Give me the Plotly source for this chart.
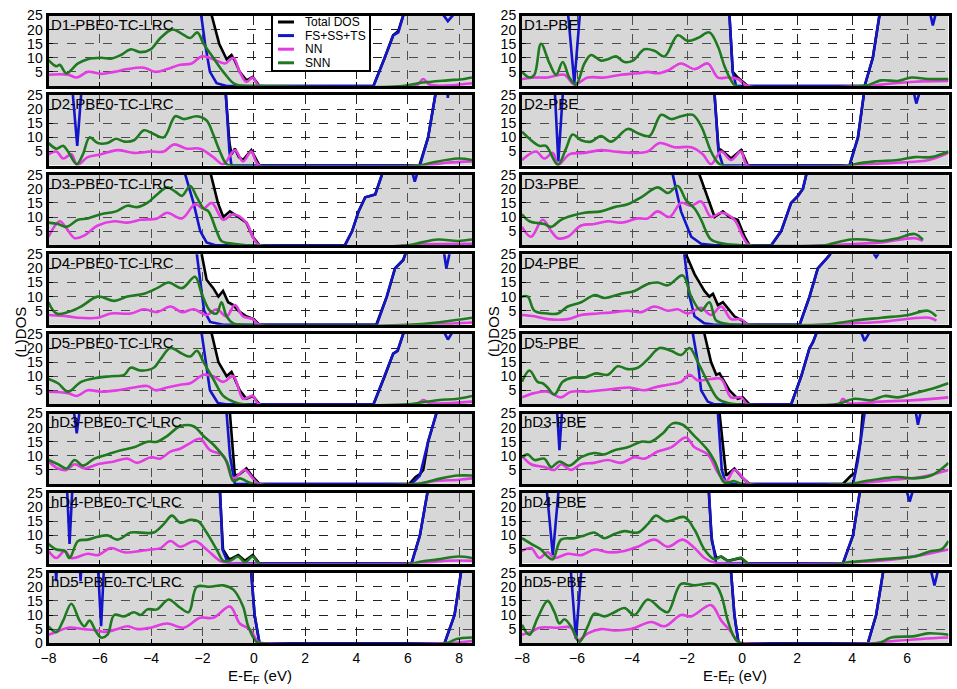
import plotly.graph_objects as go

# panel labels
labels_left = ["D1-PBE0-TC-LRC", "D2-PBE0-TC-LRC", "D3-PBE0-TC-LRC", "D4-PBE0-TC-LRC",
               "D5-PBE0-TC-LRC", "hD3-PBE0-TC-LRC", "hD4-PBE0-TC-LRC", "hD5-PBE0-TC-LRC"]
labels_right = ["D1-PBE", "D2-PBE", "D3-PBE", "D4-PBE", "D5-PBE", "hD3-PBE", "hD4-PBE", "hD5-PBE"]

# (E-EF, DOS) points, 40 = off scale (above 25)
# ---- PBE0-TC-LRC column ----
d1_lrc_tot = [(-8,40),(-1.75,40),(-1.64,25),(-1.35,15),(-1.06,9.5),(-0.87,11),(-0.74,9),(-0.55,5),(-0.29,2),(-0.04,3.2),(0.22,0),(4.66,0),(5.1,10),(5.43,18),(5.63,19.5),(5.82,25),(5.9,40),(8.5,40)]
d1_lrc_fs = [(-8,40),(-2.15,40),(-2.05,25),(-1.9,15),(-1.71,5),(-1.45,1),(-1.06,0),(4.66,0),(5.1,10),(5.43,18),(5.63,19),(5.82,25),(5.9,40),(7.3,40),(7.4,25),(7.56,23),(7.75,25),(7.85,40),(8.5,40)]
d1_lrc_nn = [(-8,4),(-7.24,4),(-6.9,3),(-6.47,5),(-5.95,4.3),(-5.44,5),(-4.93,6),(-4.28,6.5),(-3.83,5),(-3.38,6),(-2.87,7.5),(-2.42,8),(-2.03,10.5),(-1.58,9.5),(-1.13,8),(-0.8,10),(-0.55,5),(-0.29,1.5),(-0.04,3),(0.22,0),(6.3,0),(6.6,2.5),(6.85,0.5),(8.5,1)]
d1_lrc_snn = [(-8,9.2),(-7.69,7),(-7.56,7.5),(-7.3,4.5),(-6.85,8),(-6.47,9.5),(-5.95,10),(-5.57,9.7),(-5.18,11),(-4.8,13),(-4.41,12),(-4.02,13),(-3.64,17),(-3.19,20),(-2.8,18.5),(-2.48,17),(-2.2,19),(-1.96,15),(-1.58,10),(-1.19,5),(-0.8,1),(-0.55,0.2),(0,0),(5.8,0),(6.4,1),(6.92,1.5),(7.56,2),(8.2,2.5),(8.5,3)]

d2_lrc_tot = [(-8,40),(-1.15,40),(-1.09,25),(-0.95,8),(-0.87,4),(-0.74,6),(-0.58,3),(-0.42,2),(-0.1,5.5),(0.22,0),(6.45,0),(6.79,10),(7.07,25),(7.15,40),(8.5,40)]
d2_lrc_fs = [(-8,40),(-7.15,40),(-7.05,25),(-6.88,7),(-6.73,25),(-6.65,40),(-1.15,40),(-1.09,25),(-0.95,5),(-0.87,0),(6.47,0),(6.79,10),(7.07,25),(7.15,40),(7.45,40),(7.56,24),(7.67,40),(8.5,40)]
d2_lrc_nn = [(-8,4),(-7.69,5),(-7.43,2.5),(-7.11,4),(-6.88,0.3),(-6.47,3),(-5.95,4),(-5.31,5.5),(-4.67,4.5),(-4.02,5),(-3.51,5),(-3.12,7.5),(-2.61,6),(-2.09,6),(-1.58,3),(-1.19,0.5),(-0.74,5.5),(-0.42,1.5),(-0.1,5),(0.22,0),(6.5,0),(7.5,1),(8.5,1.5)]
d2_lrc_snn = [(-8,8),(-7.69,6),(-7.43,7),(-7.24,5),(-6.9,0.5),(-6.66,4),(-6.4,10),(-6.08,8),(-5.7,8),(-5.37,9.5),(-5.05,8.5),(-4.67,9),(-4.28,12.5),(-3.96,11.5),(-3.51,10),(-3.06,17.5),(-2.74,16.5),(-2.22,17.5),(-1.84,16),(-1.58,11),(-1.32,5),(-1.06,0.5),(-0.8,0),(6.4,0),(6.92,1),(7.95,2.5),(8.5,2)]

d3_lrc_tot = [(-8,40),(-1.75,40),(-1.67,25),(-1.4,15),(-1.19,10),(-0.93,12),(-0.6,10),(-0.29,8),(-0.04,3),(0.22,0),(3.55,0),(3.83,5),(4.08,12),(4.34,17),(4.73,18),(4.99,25),(5.05,40),(8.5,40)]
d3_lrc_fs = [(-8,40),(-2.75,40),(-2.67,25),(-2.35,15),(-2.09,5),(-1.84,1),(-1.5,0),(3.55,0),(3.83,5),(4.08,12),(4.34,17),(4.73,18),(4.99,25),(5.05,40),(6.15,40),(6.2,25),(6.27,22.5),(6.35,25),(6.4,40),(8.5,40)]
d3_lrc_nn = [(-8,3),(-7.56,8.5),(-7.3,6),(-6.98,2.5),(-6.6,3.5),(-6.08,7),(-5.44,8.5),(-4.93,8),(-4.41,9),(-3.77,9.5),(-3.38,11.5),(-2.8,9.5),(-2.29,14.5),(-1.96,13),(-1.64,15),(-1.19,9),(-0.8,11),(-0.29,8),(-0.04,3),(0.22,0),(6.2,0),(6.5,0.3),(8.5,0.5)]
d3_lrc_snn = [(-8,8),(-7.63,7.5),(-7.3,6.5),(-6.85,9),(-6.47,9.5),(-5.95,11),(-5.37,12),(-4.93,14),(-4.54,13.5),(-4.15,15),(-3.77,18),(-3.38,20.5),(-3.06,19),(-2.8,17.5),(-2.48,21),(-2.22,17),(-1.96,13),(-1.77,12),(-1.45,5),(-1.26,1.5),(-0.8,0.5),(-0.29,0),(6,0),(6.53,1),(7.17,2),(7.95,1.5),(8.5,2)]

d4_lrc_tot = [(-8,40),(-2.1,40),(-2.03,25),(-1.84,16),(-1.58,13),(-1.38,10),(-1.2,12),(-1.0,8),(-0.8,7),(-0.6,5),(-0.3,3),(0,2),(0.22,0),(4.77,0),(5.18,10),(5.5,20),(5.82,23),(5.9,25),(5.98,40),(8.5,40)]
d4_lrc_fs = [(-8,40),(-2.3,40),(-2.22,25),(-2.09,15),(-1.94,5),(-1.7,1),(-1.2,0),(4.79,0),(5.18,10),(5.5,20),(5.82,23),(5.9,25),(5.98,40),(7.35,40),(7.42,25),(7.5,20),(7.62,25),(7.7,40),(8.5,40)]
d4_lrc_nn = [(-8,3.5),(-7.24,3),(-6.85,2.5),(-6.08,2.5),(-5.57,4),(-4.8,4),(-4.28,5.5),(-3.77,4.5),(-3.25,6.5),(-2.8,4.5),(-2.35,5.5),(-1.84,3.5),(-1.45,5.5),(-1.06,3),(-0.74,7),(-0.42,3),(-0.04,2),(0.22,0),(6.5,0),(8.5,0.8)]
d4_lrc_snn = [(-8,8),(-7.69,4),(-7.24,4.5),(-6.73,6.5),(-6.08,10),(-5.44,8.5),(-4.93,10),(-4.28,11),(-3.77,13),(-3.32,15),(-2.8,13),(-2.29,17),(-2.03,11),(-1.71,5),(-1.45,4),(-1.26,8),(-1.06,3),(-0.8,0.5),(-0.4,0),(6,0),(7.3,1),(8.5,2.5)]

d5_lrc_tot = [(-8,40),(-1.72,40),(-1.64,25),(-1.38,15),(-1.06,10),(-0.87,11.5),(-0.74,9),(-0.55,5),(-0.29,2),(-0.04,3),(0.22,0),(4.66,0),(5.1,10),(5.43,18),(5.6,19),(5.82,25),(5.9,40),(8.5,40)]
d5_lrc_fs = [(-8,40),(-2.1,40),(-2.03,25),(-1.86,15),(-1.71,5),(-1.4,0.5),(-1.1,0),(4.66,0),(5.1,10),(5.43,18),(5.6,19),(5.82,25),(5.9,40),(7.35,40),(7.45,25),(7.56,23),(7.7,25),(7.8,40),(8.5,40)]
d5_lrc_nn = [(-8,4.5),(-7.24,4),(-6.9,3),(-6.47,5),(-5.95,4.5),(-5.31,5),(-4.67,6),(-4.15,6.5),(-3.83,5),(-3.38,6),(-2.87,7),(-2.48,7.5),(-1.96,10.5),(-1.58,10),(-1.19,8),(-0.8,10),(-0.42,2),(-0.04,3),(0.22,0),(6.3,0),(6.6,1.5),(6.85,0.5),(8.5,1)]
d5_lrc_snn = [(-8,9),(-7.63,7.5),(-7.24,4.5),(-6.73,8),(-6.08,9.5),(-5.57,10),(-5.05,10.5),(-4.8,13),(-4.41,12),(-3.9,13),(-3.64,16),(-3.25,20),(-2.8,18),(-2.48,17),(-2.22,19),(-1.96,15),(-1.58,9),(-1.19,3),(-0.8,1),(-0.4,0),(6,0),(6.4,0.5),(7.17,1.5),(7.95,2),(8.5,3)]

hd3_lrc_tot = [(-8,40),(-1.0,40),(-0.93,25),(-0.8,8),(-0.74,3),(-0.55,3.5),(-0.29,5.5),(-0.04,2.5),(0.22,0),(6.05,0),(6.3,2.5),(6.47,3.5),(6.6,5),(6.79,15),(7.11,25),(7.18,40),(8.5,40)]
hd3_lrc_fs = [(-8,40),(-7.1,40),(-7.0,25),(-6.9,18),(-6.8,25),(-6.7,40),(-1.12,40),(-1.06,25),(-0.93,10),(-0.74,0),(6.14,0),(6.47,3),(6.79,15),(7.11,25),(7.18,40),(8.5,40)]
hd3_lrc_nn = [(-8,8),(-7.63,5.5),(-7.3,5),(-6.98,7),(-6.6,5.5),(-6.08,7),(-5.44,8),(-4.93,9),(-4.54,7.5),(-4.02,9.5),(-3.64,9),(-3.25,11.5),(-2.87,12.5),(-2.48,14.5),(-2.09,16),(-1.71,12),(-1.19,10),(-0.8,2),(-0.35,5),(-0.04,2),(0.22,0),(6.3,0),(7.0,1),(8.0,1.5),(8.5,2)]
hd3_lrc_snn = [(-8,8.5),(-7.63,7),(-7.3,5.5),(-6.98,8.5),(-6.66,6.5),(-6.21,9),(-5.7,10.5),(-5.18,12),(-4.67,13),(-4.15,15),(-3.77,15),(-3.38,17),(-2.87,20.5),(-2.35,20.5),(-1.96,17),(-1.58,14),(-1.06,8),(-0.8,1),(-0.55,2),(-0.29,1),(0,0),(6.3,0),(6.66,0.5),(7.3,2),(7.95,3),(8.5,3)]

hd4_lrc_tot = [(-8,40),(-1.38,40),(-1.32,25),(-1.2,5),(-1.0,2),(-0.93,1.5),(-0.61,3),(-0.35,1),(-0.04,3),(0.22,0),(6.14,0),(6.47,10),(6.76,25),(6.82,40),(8.5,40)]
hd4_lrc_fs = [(-8,40),(-7.35,40),(-7.27,25),(-7.18,7),(-7.08,25),(-7.0,40),(-1.38,40),(-1.32,25),(-1.22,5),(-1.0,0),(6.14,0),(6.47,10),(6.76,25),(6.82,40),(8.5,40)]
hd4_lrc_nn = [(-8,4.5),(-7.69,2),(-7.37,4.5),(-7.11,2),(-6.47,3.5),(-6.08,3),(-5.57,5.5),(-5.05,4),(-4.41,4.5),(-4.02,5),(-3.64,5.5),(-3.25,8),(-2.87,6),(-2.29,8),(-1.84,5),(-1.32,1),(-1.06,0.2),(-0.8,0),(6.3,0),(7.5,1),(8.5,1)]
hd4_lrc_snn = [(-8,7),(-7.69,5),(-7.37,4.5),(-7.18,2),(-6.85,8),(-6.47,8.5),(-6.08,9.5),(-5.7,10),(-5.31,8.5),(-4.8,11),(-4.41,11),(-3.9,11),(-3.51,14),(-3.19,17),(-2.87,14.5),(-2.48,15.5),(-2.16,15),(-1.84,11),(-1.45,5),(-1.19,1),(-0.93,1),(-0.61,2.5),(-0.35,0.5),(-0.04,2.5),(0.22,0),(6.2,0),(6.4,0.5),(7.17,1.5),(7.95,2.5),(8.5,2)]

hd5_lrc_tot = [(-8,40),(-0.18,40),(-0.1,25),(0.03,10),(0.22,0),(7.43,0),(7.82,10),(8.07,25),(8.15,40),(8.5,40)]
hd5_lrc_fs = [(-8,40),(-7.8,40),(-7.7,22),(-7.6,40),(-6.85,40),(-6.75,22),(-6.65,40),(-6.15,40),(-6.05,25),(-5.95,6),(-5.85,25),(-5.75,40),(-0.18,40),(-0.1,25),(0.03,10),(0.22,0),(7.43,0),(7.82,10),(8.07,25),(8.15,40),(8.5,40)]
hd5_lrc_nn = [(-8,3),(-7.69,4),(-7.24,5.5),(-6.6,5),(-6.08,4.5),(-5.83,4),(-5.31,5),(-4.93,6),(-4.54,5),(-4.02,5.5),(-3.38,7),(-2.73,5.5),(-2.09,9),(-1.58,9),(-0.93,13),(-0.55,7),(-0.16,5),(0.16,0.5),(0.4,0),(7.5,0),(8.5,0.8)]
hd5_lrc_snn = [(-8,6),(-7.69,4),(-7.43,8),(-7.11,14),(-6.79,8),(-6.6,6),(-6.4,8),(-6.14,4),(-5.95,2),(-5.7,3),(-5.44,10),(-5.05,9.5),(-4.67,11),(-4.41,10),(-4.15,12),(-3.77,12),(-3.32,15.5),(-2.93,13),(-2.54,11),(-2.22,20),(-1.71,20),(-1.19,20.5),(-0.8,19),(-0.42,13),(-0.22,6),(0.1,0.5),(0.3,0),(7.5,0),(7.9,1.5),(8.5,2)]

# ---- PBE column ----
d1_pbe_tot = [(-8,40),(-0.5,40),(-0.46,25),(-0.34,5),(-0.16,3),(0.21,0),(4.45,0),(4.75,10),(4.99,25),(5.05,40),(7.5,40)]
d1_pbe_fs = [(-8,40),(-6.4,40),(-6.32,25),(-6.1,1),(-5.9,25),(-5.82,40),(-0.5,40),(-0.46,25),(-0.34,5),(-0.22,0),(4.45,0),(4.75,10),(4.99,25),(5.05,40),(6.8,40),(6.85,25),(6.93,21.5),(7.02,25),(7.07,40),(7.5,40)]
d1_pbe_nn = [(-8,2.5),(-7.55,3),(-7.07,3),(-6.46,4),(-6.1,0.5),(-5.61,3),(-5.0,3),(-4.4,4),(-3.79,4.5),(-3.43,5),(-3.07,4.5),(-2.7,5.5),(-2.22,8),(-1.73,6),(-1.25,8),(-0.88,3),(-0.52,3),(-0.16,2.5),(0.21,0),(4.5,0),(5.06,0.5),(6.27,1.5),(7.5,1.8)]
d1_pbe_snn = [(-8,5),(-7.73,3),(-7.55,4),(-7.31,15),(-7.0,8),(-6.76,4),(-6.52,8.5),(-6.28,3),(-6.04,0.5),(-5.73,8),(-5.49,11),(-5.13,9),(-4.88,9.5),(-4.58,10.5),(-4.28,8.5),(-3.97,9),(-3.55,13),(-3.19,12.5),(-2.82,10.5),(-2.34,18),(-1.98,16),(-1.61,17),(-1.19,19),(-0.88,14),(-0.64,7),(-0.4,2),(-0.22,0),(4.4,0),(4.57,0.3),(5.06,2),(5.66,1.8),(6.15,3),(6.75,2.5),(7.5,2.5)]

d2_pbe_tot = [(-8,40),(-1.06,40),(-1.0,25),(-0.86,6),(-0.76,5.5),(-0.4,2.5),(-0.04,5.5),(0.21,0),(3.9,0),(4.21,10),(4.42,25),(4.5,40),(7.5,40)]
d2_pbe_fs = [(-8,40),(-6.88,40),(-6.8,25),(-6.68,1.5),(-6.52,25),(-6.45,40),(-1.06,40),(-1.0,25),(-0.86,5),(-0.7,0),(3.9,0),(4.21,10),(4.42,25),(4.5,40),(6.22,40),(6.26,25),(6.33,22),(6.42,25),(6.46,40),(7.5,40)]
d2_pbe_nn = [(-8,2),(-7.49,5),(-7.19,2.5),(-6.88,4.5),(-6.68,0.3),(-6.28,4),(-5.73,4.5),(-5.13,5.5),(-4.64,5),(-3.91,4.5),(-3.43,5),(-3.0,8),(-2.46,6.5),(-1.85,6.5),(-1.43,4),(-1.13,0.5),(-0.76,5),(-0.4,2),(-0.04,5),(0.21,0),(4.0,0),(4.4,0.3),(5.6,1),(6.8,2),(7.5,4.5)]
d2_pbe_snn = [(-8,12),(-7.67,9),(-7.37,7),(-7.13,7),(-6.7,0.3),(-6.4,6),(-6.16,11),(-5.85,9),(-5.49,8.5),(-5.13,10.5),(-4.76,8.5),(-4.16,13),(-3.79,11.5),(-3.37,10.5),(-2.94,18),(-2.58,16.5),(-2.22,17.5),(-1.79,18),(-1.49,14),(-1.13,5),(-0.88,1),(-0.7,0),(3.9,0),(4.09,0.5),(4.81,1.5),(5.66,2),(6.27,3),(6.87,3),(7.5,5)]

d3_pbe_tot = [(-8,40),(-1.62,40),(-1.55,25),(-1.19,15),(-1.0,10),(-0.7,12),(-0.46,10),(-0.16,9),(0.09,3),(0.27,0),(1.06,0),(1.42,5),(1.78,15),(2.03,17.5),(2.21,20),(2.33,25),(2.4,40),(7.5,40)]
d3_pbe_fs = [(-8,40),(-2.6,40),(-2.52,25),(-2.22,12),(-1.85,3),(-1.49,0.5),(-1.0,0),(1.06,0),(1.42,5),(1.78,15),(2.03,17.5),(2.21,20),(2.33,25),(2.4,40),(7.5,40)]
d3_pbe_nn = [(-8,6.5),(-7.67,3),(-7.25,9),(-6.94,5),(-6.7,2.5),(-6.34,3),(-5.85,7),(-5.37,7.5),(-4.88,8.5),(-4.4,8),(-3.79,9.5),(-3.43,9.5),(-3.07,12),(-2.64,10),(-2.22,15),(-1.85,14),(-1.49,15.5),(-1.13,10),(-0.76,11.5),(-0.28,9),(0.03,3),(0.27,0),(3.0,0),(3.8,0.3),(5.06,1),(6.27,2.5),(6.57,1.5)]
d3_pbe_snn = [(-8,11),(-7.73,8.5),(-7.19,7.5),(-6.94,6.5),(-6.58,9),(-6.16,10.5),(-5.73,11.5),(-5.13,12),(-4.64,13.5),(-4.16,14.5),(-3.67,17),(-3.07,20.5),(-2.7,18.5),(-2.34,21),(-2.04,16),(-1.73,13),(-1.49,9),(-1.13,2),(-0.64,0.5),(-0.04,0),(3.0,0),(3.24,0.5),(3.96,2),(4.45,2),(5.06,1.5),(5.66,2.5),(6.27,4),(6.57,2)]

d4_pbe_tot = [(-8,40),(-2.1,40),(-2.04,25),(-1.73,18),(-1.37,12),(-1.19,10),(-1.06,11),(-0.88,7),(-0.7,8),(-0.28,3),(0.09,1),(0.21,0),(2.09,0),(2.45,10),(2.75,20),(3.12,24),(3.2,25),(3.3,40),(7.5,40)]
d4_pbe_fs = [(-8,40),(-2.18,40),(-2.1,25),(-1.91,10),(-1.73,3),(-1.37,0.5),(-1.0,0),(2.09,0),(2.45,10),(2.75,20),(3.12,24),(3.2,25),(3.3,40),(4.75,40),(4.8,25),(4.87,24),(4.94,25),(5.0,40),(7.5,40)]
d4_pbe_nn = [(-8,3.5),(-7.55,3),(-7.07,2),(-6.34,2),(-5.85,3.5),(-5.25,4),(-4.64,4.5),(-4.16,5),(-3.67,4.5),(-3.19,6.5),(-2.7,5),(-2.34,5.5),(-1.97,4),(-1.49,6),(-1.13,3.5),(-0.76,6.5),(-0.4,2),(-0.04,2),(0.21,0),(3.0,0),(3.5,0.3),(5.0,1),(6.8,2.5),(7.06,1.5)]
d4_pbe_snn = [(-8,10),(-7.79,10),(-7.55,5),(-7.07,4),(-6.7,4),(-6.34,6.5),(-5.85,8),(-5.37,10.5),(-5.0,9.5),(-4.4,11),(-3.91,12),(-3.43,14.5),(-3.07,15),(-2.7,14),(-2.16,17.5),(-1.85,10),(-1.49,5),(-1.19,8),(-0.94,1.5),(-0.52,0.3),(-0.2,0),(2.8,0),(3.24,0.3),(4.09,1.5),(5.06,2.5),(6.03,3.5),(6.75,5),(7.06,3)]

d5_pbe_tot = [(-8,40),(-1.45,40),(-1.37,25),(-1.13,15),(-0.94,10.5),(-0.82,11),(-0.64,8),(-0.46,5),(-0.16,2),(0.03,2.5),(0.27,0),(1.78,0),(2.15,10),(2.45,20),(2.57,22),(2.69,25),(2.75,40),(7.5,40)]
d5_pbe_fs = [(-8,40),(-1.87,40),(-1.79,25),(-1.61,15),(-1.49,5),(-1.25,1),(-1.0,0),(1.78,0),(2.15,10),(2.45,20),(2.57,22),(2.69,25),(2.75,40),(4.3,40),(4.35,25),(4.45,22.5),(4.6,25),(4.65,40),(7.5,40)]
d5_pbe_nn = [(-8,2.5),(-7.55,4),(-7.07,4.5),(-6.58,2.5),(-6.22,4.5),(-5.61,4.5),(-5.13,5),(-4.64,5.5),(-4.1,6),(-3.55,5),(-3.19,6),(-2.7,7),(-2.22,8),(-1.91,10.5),(-1.61,8.5),(-1.13,9),(-0.76,9),(-0.4,2.5),(-0.04,2.5),(0.21,0),(3.5,0),(3.66,2),(3.85,0.5),(5.06,1),(6.27,1.5),(7.5,2.5)]
d5_pbe_snn = [(-8,8),(-7.73,12),(-7.43,8),(-7.25,7.5),(-7.07,6),(-6.82,3.5),(-6.52,8),(-6.16,9.5),(-5.73,9.5),(-5.31,11),(-4.88,10.5),(-4.52,13.5),(-4.16,12.5),(-3.79,13),(-3.43,16),(-3.0,20),(-2.58,19),(-2.22,17.5),(-1.91,20),(-1.61,15),(-1.25,8),(-0.88,2),(-0.52,0.5),(-0.2,0),(3.4,0),(3.6,0.5),(4.09,2),(4.69,1.5),(5.18,3),(5.66,2.5),(6.27,4),(6.87,5.5),(7.5,7.5)]

hd3_pbe_tot = [(-8,40),(-0.9,40),(-0.82,25),(-0.58,3),(-0.28,5.5),(0.03,2),(0.27,0),(3.66,0),(3.96,3),(4.1,4),(4.3,15),(4.45,25),(4.5,40),(7.5,40)]
hd3_pbe_fs = [(-8,40),(-6.78,40),(-6.72,25),(-6.64,12),(-6.55,25),(-6.5,40),(-0.95,40),(-0.88,25),(-0.74,5),(-0.58,0),(4.03,0),(4.2,8),(4.45,25),(4.5,40),(6.28,40),(6.32,25),(6.39,21),(6.48,25),(6.52,40),(7.5,40)]
hd3_pbe_nn = [(-8,10),(-7.67,7),(-7.19,6),(-6.82,5),(-6.58,7),(-6.22,5),(-5.85,7),(-5.37,7.5),(-4.88,8.5),(-4.4,7.5),(-3.91,9.5),(-3.55,9),(-3.07,11.5),(-2.58,13),(-2.04,16.5),(-1.73,13),(-1.25,10.5),(-0.88,4),(-0.58,1),(-0.28,5),(0.09,1.5),(0.27,0),(4.0,0),(4.3,0.3),(5.5,1.5),(6.5,2.5),(7.5,5)]
hd3_pbe_snn = [(-8,9.5),(-7.79,10.5),(-7.55,8.5),(-7.19,9),(-6.94,6),(-6.64,8),(-6.28,6.5),(-5.85,9.5),(-5.37,11),(-5.0,10.5),(-4.64,12),(-4.16,13),(-3.67,15),(-3.31,15),(-2.88,18),(-2.52,21.5),(-2.16,21),(-1.73,17),(-1.25,12),(-1.0,8),(-0.64,0.5),(-0.28,1),(0,0),(3.9,0),(4.1,0.3),(4.45,1),(5.66,2.5),(6.27,2),(6.87,3),(7.5,7.5)]

hd4_pbe_tot = [(-8,40),(-1.28,40),(-1.21,25),(-1.1,8),(-0.94,2),(-0.76,2.5),(-0.52,1),(-0.04,2),(0.21,0),(3.66,0),(4.03,10),(4.27,25),(4.33,40),(7.5,40)]
hd4_pbe_fs = [(-8,40),(-7.15,40),(-7.09,25),(-6.88,3),(-6.68,25),(-6.62,40),(-1.28,40),(-1.21,25),(-1.12,10),(-0.94,0),(3.66,0),(4.03,10),(4.27,25),(4.33,40),(5.95,40),(6.0,25),(6.09,22),(6.18,25),(6.23,40),(7.5,40)]
hd4_pbe_nn = [(-8,4.5),(-7.67,5.5),(-7.37,2),(-7.07,4),(-6.82,2),(-6.34,3.5),(-5.85,3),(-5.37,5),(-4.88,4),(-4.28,4.5),(-3.79,6),(-3.19,8.5),(-2.7,6),(-2.16,8.5),(-1.73,5.5),(-1.37,2),(-1.0,0.3),(-0.7,0),(3.7,0),(4.0,0.3),(5.5,1.5),(6.5,3),(7.5,5)]
hd4_pbe_snn = [(-8,9),(-7.67,7),(-7.31,5),(-7.07,2.5),(-6.88,1.5),(-6.58,8.5),(-6.1,9),(-5.73,10),(-5.37,11),(-5.0,9),(-4.64,10.5),(-4.28,11.5),(-3.79,11),(-3.43,14),(-3.13,17),(-2.76,15),(-2.1,16.5),(-1.73,12),(-1.37,5),(-1.0,1.5),(-0.76,2.5),(-0.52,1),(-0.04,2),(0.21,0),(3.6,0),(3.72,0.3),(4.45,1),(5.66,2),(6.27,2.5),(6.87,4.5),(7.24,5),(7.5,8)]

hd5_pbe_tot = [(-8,40),(-0.48,40),(-0.4,25),(-0.28,10),(-0.13,0),(4.57,0),(4.87,10),(5.12,25),(5.18,40),(7.5,40)]
hd5_pbe_fs = [(-8,40),(-6.3,40),(-6.22,25),(-6.04,1.5),(-5.85,25),(-5.77,40),(-0.48,40),(-0.4,25),(-0.28,10),(-0.13,0),(4.57,0),(4.87,10),(5.12,25),(5.18,40),(6.83,40),(6.88,25),(6.99,20.5),(7.1,25),(7.15,40),(7.5,40)]
hd5_pbe_nn = [(-8,3),(-7.67,4),(-7.37,5.5),(-6.7,5.5),(-6.22,5.5),(-5.97,1),(-5.61,3.5),(-5.13,5),(-4.64,4.5),(-4.04,5),(-3.31,7.5),(-2.82,6),(-2.22,10),(-1.85,9.5),(-1.13,13.5),(-0.76,8),(-0.4,4),(-0.16,0.5),(0.1,0),(4.8,0),(5.0,0.3),(6.5,1.5),(7.5,2)]
hd5_pbe_snn = [(-8,6.5),(-7.73,3),(-7.43,9),(-7.07,15),(-6.82,11),(-6.64,7),(-6.46,8.5),(-6.22,6),(-5.91,0.5),(-5.61,6),(-5.37,10.5),(-5.0,9.5),(-4.64,11),(-4.28,12.5),(-3.91,10),(-3.43,15.5),(-2.94,12),(-2.7,11),(-2.22,21),(-1.73,20.5),(-1.0,21),(-0.76,17),(-0.52,8),(-0.28,2),(-0.04,0),(4.9,0),(5.05,0.3),(5.42,2),(6.27,2.5),(6.75,3.5),(7.5,3)]

left_panels = [
    (d1_lrc_tot, d1_lrc_fs, d1_lrc_nn, d1_lrc_snn),
    (d2_lrc_tot, d2_lrc_fs, d2_lrc_nn, d2_lrc_snn),
    (d3_lrc_tot, d3_lrc_fs, d3_lrc_nn, d3_lrc_snn),
    (d4_lrc_tot, d4_lrc_fs, d4_lrc_nn, d4_lrc_snn),
    (d5_lrc_tot, d5_lrc_fs, d5_lrc_nn, d5_lrc_snn),
    (hd3_lrc_tot, hd3_lrc_fs, hd3_lrc_nn, hd3_lrc_snn),
    (hd4_lrc_tot, hd4_lrc_fs, hd4_lrc_nn, hd4_lrc_snn),
    (hd5_lrc_tot, hd5_lrc_fs, hd5_lrc_nn, hd5_lrc_snn),
]
right_panels = [
    (d1_pbe_tot, d1_pbe_fs, d1_pbe_nn, d1_pbe_snn),
    (d2_pbe_tot, d2_pbe_fs, d2_pbe_nn, d2_pbe_snn),
    (d3_pbe_tot, d3_pbe_fs, d3_pbe_nn, d3_pbe_snn),
    (d4_pbe_tot, d4_pbe_fs, d4_pbe_nn, d4_pbe_snn),
    (d5_pbe_tot, d5_pbe_fs, d5_pbe_nn, d5_pbe_snn),
    (hd3_pbe_tot, hd3_pbe_fs, hd3_pbe_nn, hd3_pbe_snn),
    (hd4_pbe_tot, hd4_pbe_fs, hd4_pbe_nn, hd4_pbe_snn),
    (hd5_pbe_tot, hd5_pbe_fs, hd5_pbe_nn, hd5_pbe_snn),
]

W, H = 957, 689
FONT = "Liberation Sans, Arial, sans-serif"
names = ["Total DOS", "FS+SS+TS", "NN", "SNN"]
colors = ["#000000", "#1414c8", "#e23ce2", "#1f7a1f"]

fig = go.Figure()

# inner edges of the frames, in pixels
columns = [
    (labels_left, left_panels, [-8, 8.5], (48.5, 472)),
    (labels_right, right_panels, [-8, 7.5], (522, 948.5)),
]

for c, (labels, panels, xr, (px0, px1)) in enumerate(columns):
    for r, curves in enumerate(panels):
        k = c * 8 + r + 1
        xs = "" if k == 1 else str(k)
        top = 15.5 + 79.6 * r
        bot = top + 70.5
        for i, pts in enumerate(curves):
            tr = dict(
                x=[p[0] for p in pts], y=[p[1] for p in pts],
                xaxis="x" + xs, yaxis="y" + xs, mode="lines",
                name=names[i], showlegend=False,
                line=dict(color=colors[i], width=2.6),
            )
            if i == 0:
                tr["fill"] = "tozeroy"
                tr["fillcolor"] = "rgba(150,150,150,0.38)"
            if i >= 2:
                tr["line"]["shape"] = "spline"
                tr["line"]["smoothing"] = 1.0
            fig.add_trace(go.Scatter(**tr))

        fig.layout["xaxis" + xs] = dict(
            domain=[px0 / W, px1 / W], anchor="y" + xs, range=xr, automargin=False,
            tick0=-8, dtick=2, showgrid=True, gridcolor="#222", griddash="dash", gridwidth=1,
            showline=True, linecolor="black", linewidth=3, mirror=True,
            ticks="inside", ticklen=4, tickcolor="black",
            showticklabels=(r == 7), tickfont=dict(size=14, color="black"),
            zeroline=False,
        )
        yt = [0, 5, 10, 15, 20, 25] if (r == 7 and c == 0) else [5, 10, 15, 20, 25]
        fig.layout["yaxis" + xs] = dict(
            domain=[1 - bot / H, 1 - top / H], anchor="x" + xs, range=[0, 25], automargin=False,
            tickvals=yt, showgrid=True, gridcolor="#222", griddash="dash", gridwidth=1,
            showline=True, linecolor="black", linewidth=3, mirror=True,
            ticks="inside", ticklen=4, tickcolor="black",
            tickfont=dict(size=14, color="black"), zeroline=False,
        )
        fig.add_annotation(
            text=labels[r], xref="x" + xs + " domain", yref="y" + xs + " domain",
            x=0, y=1, xanchor="left", yanchor="top", xshift=0, yshift=2,
            showarrow=False, font=dict(size=15, color="black"),
        )

    # column titles
    fig.add_annotation(
        text="E-E<sub>F</sub> (eV)", xref="paper", yref="paper",
        x=(px0 + px1) / 2 / W, y=1 - 676 / H, xanchor="center", yanchor="middle",
        showarrow=False, font=dict(size=15, color="black"),
    )
    fig.add_annotation(
        text="(L)DOS", xref="paper", yref="paper", textangle=-90,
        x=(px0 - 29) / W, y=1 - 332 / H, xanchor="center", yanchor="middle",
        showarrow=False, font=dict(size=15, color="black"),
    )

# legend box in the first panel (drawn by hand, plotly's rows are too tall)
lx0, lx1, ly0, ly1 = 272, 370, 15, 71
fig.add_shape(type="rect", xref="paper", yref="paper",
              x0=lx0 / W, x1=lx1 / W, y0=1 - ly1 / H, y1=1 - ly0 / H,
              line=dict(color="black", width=2), fillcolor="white", layer="above")
for i, nm in enumerate(names):
    yy = 1 - (22 + 13.6 * i) / H
    fig.add_shape(type="line", xref="paper", yref="paper",
                  x0=278 / W, x1=294 / W, y0=yy, y1=yy,
                  line=dict(color=colors[i], width=3), layer="above")
    fig.add_annotation(text=nm, xref="paper", yref="paper", x=303 / W, y=yy,
                       xanchor="left", yanchor="middle", showarrow=False,
                       font=dict(size=12, color="black"))

fig.update_layout(
    width=W, height=H,
    margin=dict(l=0, r=0, t=0, b=0, autoexpand=False),
    paper_bgcolor="white", plot_bgcolor="white",
    font=dict(family=FONT, color="black"),
    showlegend=False,
)

# no page margin round the figure
fig.write_html("out.html", config={"displayModeBar": False},
               post_script="document.body.style.margin='0';")
